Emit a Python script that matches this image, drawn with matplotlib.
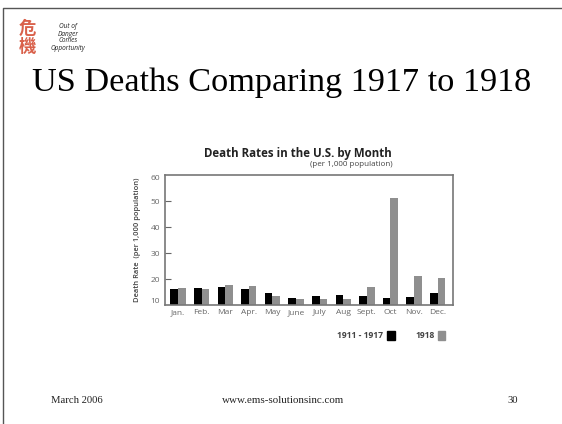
import numpy as np
import matplotlib
matplotlib.use('Agg')
import matplotlib.pyplot as plt
from matplotlib.lines import Line2D
from matplotlib.patches import Rectangle

months = ['Jan.', 'Feb.', 'Mar', 'Apr.', 'May', 'June', 'July', 'Aug', 'Sept.', 'Oct', 'Nov.', 'Dec.']
rate_1911_1917 = [16.3, 16.5, 16.8, 16.0, 14.6, 12.8, 13.6, 13.8, 13.6, 12.8, 13.2, 14.6]
rate_1918 = [16.5, 16.2, 17.6, 17.5, 13.6, 12.2, 12.2, 12.5, 16.8, 51.0, 21.2, 20.5]
y_ticks = [10, 20, 30, 40, 50, 60]

W, H = 562, 424
GREY = '#8f8f8f'
CHART_FONT = 'Open Sans'
SERIF = 'Liberation Serif'

fig = plt.figure(figsize=(W/100, H/100), dpi=100, facecolor='white')

def fx(x): return x/W
def fy(y): return 1 - y/H

# slide frame, only top and left show
fig.add_artist(Line2D([fx(3), fx(3), 1], [0, fy(8), fy(8)], transform=fig.transFigure,
                      color='#555555', lw=1))

# logo + motto
fig.text(fx(27), fy(38), '危\n機', family=['Noto Sans CJK TC', 'DejaVu Sans'], color='#d9604a',
         fontsize=12.5, ha='center', va='center', fontweight='bold', linespacing=0.95)
for y, s in zip([27, 34, 41, 49], ['Out of', 'Danger', 'Comes', 'Opportunity']):
    fig.text(fx(68), fy(y), s, fontsize=4.7, style='italic', family=CHART_FONT,
             ha='center', va='center', color='#222222')

fig.text(fx(281.5), fy(90.5), 'US Deaths Comparing 1917 to 1918', family=SERIF,
         fontsize=24.7, ha='center', va='baseline', color='black')

# footer
fig.text(fx(76.5), fy(400.5), 'March 2006', family=SERIF, fontsize=7.7,
         ha='center', va='center', color='#222222')
fig.text(fx(283.5), fy(400.5), 'www.ems-solutionsinc.com', family=SERIF, fontsize=7.9,
         ha='center', va='center', color='#222222')
fig.text(fx(512.5), fy(400.5), '30', family=SERIF, fontsize=7.7,
         ha='center', va='center', color='#222222')

# chart
ax = fig.add_axes([fx(165), fy(305), 288/W, 130/H])
x = np.arange(len(months))
w = 0.326
ax.bar(x - w/2, rate_1911_1917, w, color='black')
ax.bar(x + w/2, rate_1918, w, color=GREY)
ax.set_xlim(-0.55, 11.65)
ax.set_ylim(10, 60)
ax.set_xticks(x, months, family=CHART_FONT)
ax.set_yticks(y_ticks, [str(t) for t in y_ticks], family=CHART_FONT)
ax.tick_params(axis='x', length=0, labelsize=6, labelcolor='#666666', pad=3)
ax.tick_params(axis='y', direction='in', length=4, width=0.8, color='#666666',
               labelsize=6, labelcolor='#666666', pad=3.5)
yticks = ax.yaxis.get_major_ticks()
yticks[0].tick1line.set_visible(False)
yticks[-1].tick1line.set_visible(False)
yticks[0].label1.set_va('bottom')
yticks[-1].label1.set_va('top')
for s in ax.spines.values():
    s.set_color('#777777')
    s.set_linewidth(1.2)
ax.set_ylabel('Death Rate  (per 1,000 population)', fontsize=5.4, family=CHART_FONT,
              fontweight='semibold', color='#444444')
ax.yaxis.set_label_coords((141 - 165) / 288, 0.5)

fig.text(fx(298), fy(153), 'Death Rates in the U.S. by Month', fontsize=8.3, family=CHART_FONT,
         fontweight='bold', ha='center', va='center', color='#222222')
fig.text(fx(351), fy(164), '(per 1,000 population)', fontsize=5.8, family=CHART_FONT,
         ha='center', va='center', color='#444444')

# legend
fig.text(fx(360), fy(336), '1911 - 1917', fontsize=6.1, family=CHART_FONT, fontweight='bold',
         ha='center', va='center', color='#444444')
fig.add_artist(Rectangle((fx(387), fy(340)), 8/W, 9/H, transform=fig.transFigure, color='black'))
fig.text(fx(425.5), fy(336), '1918', fontsize=6.1, family=CHART_FONT, fontweight='bold',
         ha='center', va='center', color='#444444')
fig.add_artist(Rectangle((fx(438), fy(340)), 7/W, 9/H, transform=fig.transFigure, color=GREY))

fig.savefig('out.png', dpi=100)
